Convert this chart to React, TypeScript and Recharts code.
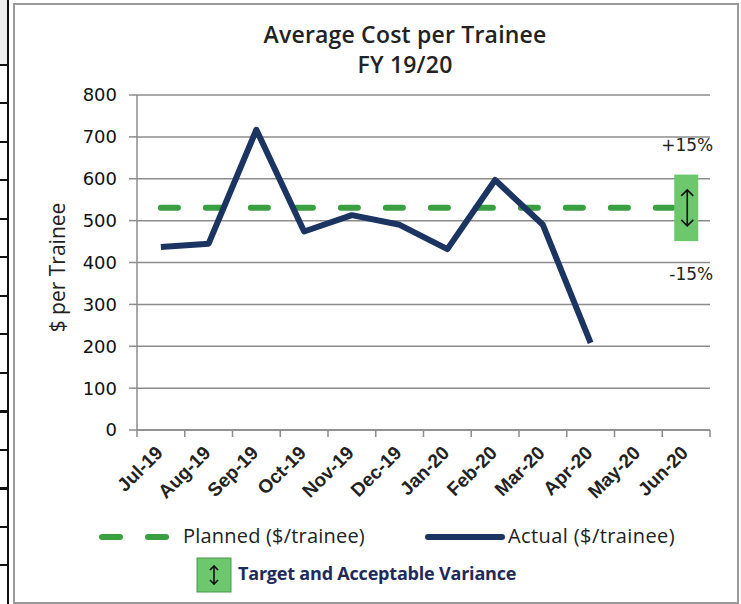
import React from "react";
import { Bar, CartesianGrid, ComposedChart, Line, XAxis, YAxis } from "recharts";

const months = ["Jul-19", "Aug-19", "Sep-19", "Oct-19", "Nov-19", "Dec-19", "Jan-20", "Feb-20", "Mar-20", "Apr-20", "May-20", "Jun-20"];
const planned = [531, 531, 531, 531, 531, 531, 531, 531, 531, 531, 531, 531];
const actual = [437, 445, 717, 474, 513, 490, 432, 597, 490, 208, null, null];
// target band (+/-15% of plan), only drawn at the last month
const varianceLow = [null, null, null, null, null, null, null, null, null, null, null, 451];
const varianceHigh = [null, null, null, null, null, null, null, null, null, null, null, 610];
const varianceLabels = ["+15%", "-15%"];
const yTicks = [0, 100, 200, 300, 400, 500, 600, 700, 800];

const TITLE = ["Average Cost per Trainee", "FY 19/20"];
const Y_LABEL = "$ per Trainee";
const PLANNED_NAME = "Planned ($/trainee)";
const ACTUAL_NAME = "Actual ($/trainee)";
const VARIANCE_NAME = "Target and Acceptable Variance";

const W = 741;
const H = 604;
const PLOT_LEFT = 137;
const PLOT_RIGHT = 710;
const PLOT_TOP = 95;
const PLOT_BOTTOM = 430;
const BAND = (PLOT_RIGHT - PLOT_LEFT) / months.length;

const GREEN = "#3a9f40";
const NAVY = "#1c3461";
const BOX = "#6dc86d";
const GRID = "#8c8c8c";
const TEXT = "#222";
const SANS = "'Open Sans', 'Liberation Sans', sans-serif";
const AXIS_FONT = "'DejaVu Sans', sans-serif";

const data = months.map((m, i) => ({
  month: m,
  planned: planned[i],
  actual: actual[i],
  varLow: varianceLow[i],
  varBand: varianceHigh[i] == null || varianceLow[i] == null ? null : varianceHigh[i]! - varianceLow[i]!,
}));

function Arrow({ cx, top, bottom, size }: { cx: number; top: number; bottom: number; size: number }) {
  return (
    <path
      d={`M${cx},${top} L${cx},${bottom} M${cx - size},${top + size} L${cx},${top} L${cx + size},${top + size} M${cx - size},${bottom - size} L${cx},${bottom} L${cx + size},${bottom - size}`}
      stroke="#111"
      strokeWidth={1.6}
      fill="none"
    />
  );
}

function VarianceShape(props: any) {
  const { x, y, width, height } = props;
  if (!height) return null;
  const cx = x + width / 2;
  const mid = y + height / 2;
  return (
    <g>
      <rect x={x} y={y} width={width} height={height} fill={BOX} />
      <Arrow cx={cx + 1} top={mid - 18} bottom={mid + 18} size={6} />
      <text x={x + width + 15} y={y - 24} textAnchor="end" fontFamily={AXIS_FONT} fontSize={17} fill={TEXT}>
        {varianceLabels[0]}
      </text>
      <text x={x + width + 15} y={y + height + 39} textAnchor="end" fontFamily={AXIS_FONT} fontSize={17} fill={TEXT}>
        {varianceLabels[1]}
      </text>
    </g>
  );
}

function MonthTick(props: any) {
  const { x, payload, index } = props;
  const axisY = PLOT_BOTTOM;
  const last = index === months.length - 1;
  const ax = x + 3;
  const ay = axisY + 24;
  return (
    <g>
      <line x1={x - BAND / 2} x2={x - BAND / 2} y1={axisY} y2={axisY + 7} stroke={GRID} strokeWidth={1.5} />
      {last && <line x1={x + BAND / 2} x2={x + BAND / 2} y1={axisY} y2={axisY + 7} stroke={GRID} strokeWidth={1.5} />}
      <text
        x={ax}
        y={ay}
        transform={`rotate(-45 ${ax} ${ay})`}
        textAnchor="end"
        fontFamily="'Liberation Sans', Arial, sans-serif"
        fontWeight={700}
        fontSize={19}
        fill={TEXT}
      >
        {payload.value}
      </text>
    </g>
  );
}

function Legend() {
  return (
    <div style={{ position: "absolute", left: 0, top: 0, width: W, height: H, pointerEvents: "none" }}>
      <svg width={W} height={H} style={{ position: "absolute", left: 0, top: 0 }}>
        <line x1={102} x2={120} y1={537} y2={537} stroke={GREEN} strokeWidth={6} strokeLinecap="round" />
        <line x1={148} x2={166} y1={537} y2={537} stroke={GREEN} strokeWidth={6} strokeLinecap="round" />
        <line x1={428} x2={502} y1={537} y2={537} stroke={NAVY} strokeWidth={6} strokeLinecap="round" />
        <rect x={197} y={558} width={34} height={34} fill={BOX} stroke="#4a9a4a" strokeWidth={1} />
        <Arrow cx={214} top={566} bottom={584} size={4} />
      </svg>
      <div style={{ position: "absolute", left: 183, top: 522, fontFamily: SANS, fontSize: 20, fontWeight: 500, letterSpacing: 0.2, color: TEXT, whiteSpace: "nowrap" }}>
        {PLANNED_NAME}
      </div>
      <div style={{ position: "absolute", left: 508, top: 522, fontFamily: SANS, fontSize: 20, fontWeight: 500, letterSpacing: 0.4, color: TEXT, whiteSpace: "nowrap" }}>
        {ACTUAL_NAME}
      </div>
      <div
        style={{
          position: "absolute",
          left: 238,
          top: 561,
          fontFamily: SANS,
          fontSize: 18,
          fontWeight: 700,
          letterSpacing: -0.2,
          color: "#1f2a5a",
          whiteSpace: "nowrap",
        }}
      >
        {VARIANCE_NAME}
      </div>
    </div>
  );
}

export default function App() {
  return (
    <div style={{ position: "absolute", left: 0, top: 0, width: W, height: H, background: "#fff", overflow: "hidden" }}>
      {/* scanned page edge on the left */}
      <div
        style={{
          position: "absolute",
          left: 0,
          top: 64,
          width: 8,
          height: 505,
          backgroundImage: "repeating-linear-gradient(to bottom, #111 0px, #111 2px, transparent 2px, transparent 38.5px)",
        }}
      />
      <div style={{ position: "absolute", left: 0, top: 0, width: 8, height: 64, background: "#eee" }} />
      <div style={{ position: "absolute", left: 7, top: 0, width: 2, height: H, background: "#111" }} />
      <div
        style={{
          position: "absolute",
          left: 13,
          top: 3,
          width: 722,
          height: 597,
          border: "2px solid #9a9a9a",
        }}
      />
      <div
        style={{
          position: "absolute",
          left: 0,
          top: 19,
          width: 810,
          textAlign: "center",
          fontFamily: SANS,
          fontSize: 23,
          fontWeight: 600,
          letterSpacing: 0.2,
          lineHeight: "30px",
          color: TEXT,
        }}
      >
        <div>{TITLE[0]}</div>
        <div>{TITLE[1]}</div>
      </div>
      <div style={{ position: "absolute", left: 0, top: 0 }}>
        <ComposedChart
          width={W}
          height={H}
          data={data}
          margin={{ top: PLOT_TOP, right: W - PLOT_RIGHT, bottom: 0, left: 0 }}
        >
          <CartesianGrid stroke={GRID} strokeWidth={1.5} vertical={false} />
          <XAxis
            dataKey="month"
            interval={0}
            axisLine={{ stroke: GRID, strokeWidth: 1.5 }}
            tickLine={false}
            tick={<MonthTick />}
            height={H - PLOT_BOTTOM}
          />
          <YAxis
            width={PLOT_LEFT}
            domain={[0, 800]}
            ticks={yTicks}
            interval={0}
            axisLine={{ stroke: GRID, strokeWidth: 1.5 }}
            tickLine={{ stroke: GRID, strokeWidth: 1.5 }}
            tickSize={8}
            tickMargin={12}
            tick={{ fill: "#111", fontSize: 18, fontFamily: AXIS_FONT }}
            label={{
              value: Y_LABEL,
              angle: -90,
              position: "insideLeft",
              offset: 58,
              dy: 5,
              style: { textAnchor: "middle", fontFamily: SANS, fontSize: 21, fontWeight: 500, fill: TEXT },
            }}
          />
          <Line
            dataKey="planned"
            name={PLANNED_NAME}
            type="linear"
            stroke={GREEN}
            strokeWidth={6}
            strokeDasharray="17 28"
            strokeLinecap="round"
            dot={false}
            activeDot={false}
            isAnimationActive={false}
          />
          <Line
            dataKey="actual"
            name={ACTUAL_NAME}
            type="linear"
            stroke={NAVY}
            strokeWidth={6}
            strokeLinejoin="round"
            dot={false}
            activeDot={false}
            isAnimationActive={false}
          />
          <Bar dataKey="varLow" stackId="v" fill="transparent" barSize={24} isAnimationActive={false} {...({ zIndex: 500 } as any)} />
          <Bar
            dataKey="varBand"
            name={VARIANCE_NAME}
            stackId="v"
            barSize={24}
            shape={<VarianceShape />}
            isAnimationActive={false}
            {...({ zIndex: 500 } as any)}
          />
        </ComposedChart>
      </div>
      <Legend />
    </div>
  );
}
